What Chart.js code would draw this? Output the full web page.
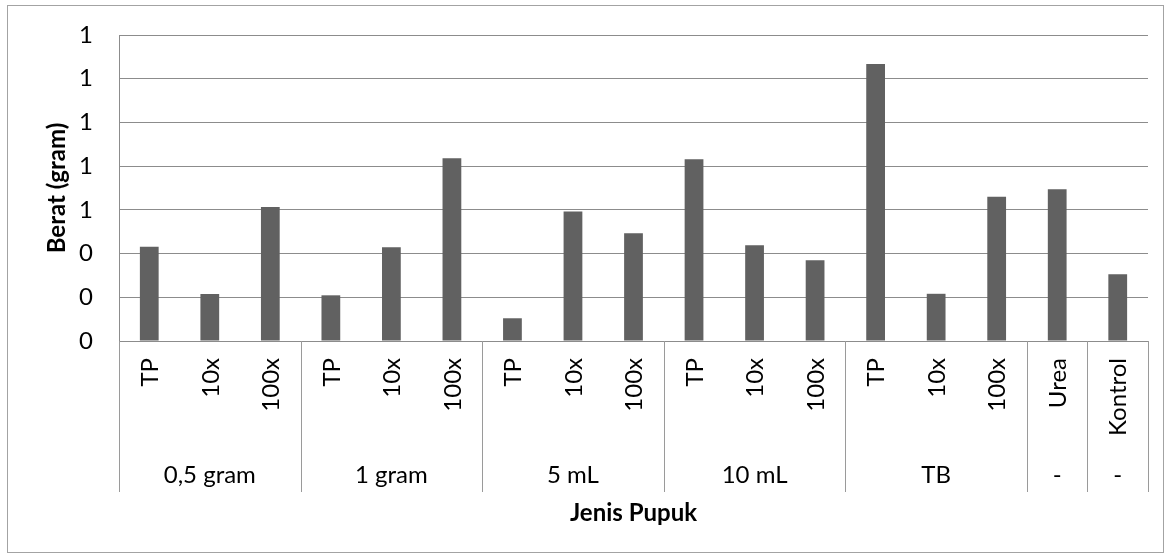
<!DOCTYPE html>
<html>
<head>
<meta charset="utf-8">
<script src="https://cdn.jsdelivr.net/npm/chart.js@4.4.0/dist/chart.umd.min.js"></script>
<style>
  html, body { margin: 0; padding: 0; background: #ffffff; }
  canvas { display: block; }
</style>
</head>
<body>
<canvas id="chart" width="1171" height="559"></canvas>
<script>
// Sub-category (inner level) labels, one per bar
const subLabels = ['TP', '10x', '100x', 'TP', '10x', '100x', 'TP', '10x', '100x',
                   'TP', '10x', '100x', 'TP', '10x', '100x', 'Urea', 'Kontrol'];
// Outer level groups and how many bars each spans
const groupLabels = ['0,5 gram', '1 gram', '5 mL', '10 mL', 'TB', '-', '-'];
const groupSizes = [3, 3, 3, 3, 3, 1, 1];
// Berat (gram) per bar
const beratValues = [0.431, 0.215, 0.613, 0.209, 0.429, 0.836, 0.104, 0.592, 0.493,
                     0.831, 0.438, 0.369, 1.267, 0.216, 0.660, 0.694, 0.305];
// Y tick labels (values shown without decimals)
const yTickLabels = ['0', '0', '0', '1', '1', '1', '1', '1'];

const FONT = 'Lato, "Open Sans", sans-serif';
const TEXT_SIZE = 24;

// White background and thin frame around the whole chart
const framePlugin = {
  id: 'frame',
  beforeDraw(chart) {
    const ctx = chart.ctx;
    ctx.save();
    ctx.fillStyle = '#ffffff';
    ctx.fillRect(0, 0, chart.width, chart.height);
    ctx.strokeStyle = '#a3a3a3';
    ctx.lineWidth = 1;
    ctx.strokeRect(7.5, 5.5, 1156, 547);
    ctx.restore();
  }
};

// Two-level category axis: rotated sub labels, group labels and separators
const categoryAxisPlugin = {
  id: 'categoryAxis',
  afterDraw(chart) {
    const ctx = chart.ctx;
    const x = chart.scales.x;
    const bottom = chart.chartArea.bottom;
    const step = x.getPixelForValue(1) - x.getPixelForValue(0);
    const edge = i => x.getPixelForValue(i) - step / 2;

    ctx.save();
    ctx.fillStyle = '#000000';
    ctx.font = TEXT_SIZE + 'px ' + FONT;

    // inner labels, reading bottom to top
    ctx.textAlign = 'right';
    ctx.textBaseline = 'middle';
    subLabels.forEach((label, i) => {
      ctx.save();
      ctx.translate(x.getPixelForValue(i) + 1, bottom + 17);
      ctx.rotate(-Math.PI / 2);
      ctx.fillText(label, 0, 0);
      ctx.restore();
    });

    // group separators
    ctx.strokeStyle = '#9a9a9a';
    ctx.lineWidth = 1;
    const vline = px => {
      const p = Math.round(px) + 0.5;
      ctx.beginPath();
      ctx.moveTo(p, bottom);
      ctx.lineTo(p, bottom + 151);
      ctx.stroke();
    };
    vline(edge(0));

    // group labels
    ctx.textAlign = 'center';
    ctx.textBaseline = 'alphabetic';
    let start = 0;
    groupLabels.forEach((label, k) => {
      const end = start + groupSizes[k];
      vline(edge(end));
      ctx.fillText(label, (edge(start) + edge(end)) / 2, bottom + 142);
      start = end;
    });
    ctx.restore();
  }
};

new Chart(document.getElementById('chart'), {
  type: 'bar',
  data: {
    labels: subLabels,
    datasets: [{
      data: beratValues,
      backgroundColor: '#616161',
      borderWidth: 0,
      barPercentage: 0.31,
      categoryPercentage: 1
    }]
  },
  options: {
    responsive: false,
    animation: false,
    devicePixelRatio: 1,
    layout: { padding: { top: 35, right: 23, bottom: 0, left: 0 } },
    plugins: {
      legend: { display: false },
      tooltip: { enabled: false }
    },
    scales: {
      x: {
        ticks: { display: false },
        grid: { display: false, drawTicks: false },
        border: { display: false },
        title: {
          display: true,
          text: 'Jenis Pupuk',
          color: '#000000',
          font: { family: FONT, size: TEXT_SIZE, weight: 'bold' },
          padding: { top: 0, bottom: 31 }
        },
        afterFit(scale) { scale.height = 218; }
      },
      y: {
        min: 0,
        max: 1.4,
        ticks: {
          stepSize: 0.2,
          padding: 26,
          color: '#000000',
          font: { family: FONT, size: TEXT_SIZE },
          callback: (value, index) => yTickLabels[index]
        },
        grid: { color: '#8c8c8c', drawTicks: false },
        border: { display: true, color: '#8c8c8c' },
        title: {
          display: true,
          text: 'Berat (gram)',
          color: '#000000',
          font: { family: FONT, size: TEXT_SIZE, weight: 'bold' },
          padding: { top: 43, bottom: 0 }
        },
        afterFit(scale) {
          // fixed axis width; keep the label gap from pushing the plot down
          scale.width = 119;
          scale.paddingTop = 15;
          scale.paddingBottom = 15;
        }
      }
    }
  },
  plugins: [framePlugin, categoryAxisPlugin]
});
</script>
</body>
</html>
